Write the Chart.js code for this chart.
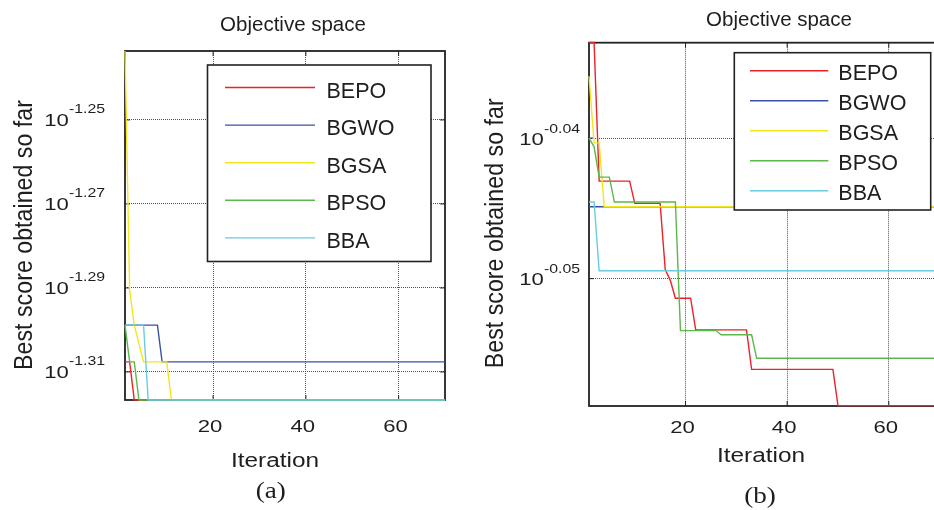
<!DOCTYPE html>
<html>
<head>
<meta charset="utf-8">
<title>Objective space</title>
<script src="https://cdn.jsdelivr.net/npm/chart.js@4.4.1/dist/chart.umd.min.js"></script>
<style>
  html, body { margin: 0; padding: 0; background: #fff; }
  body { width: 934px; height: 510px; overflow: hidden; position: relative; }
  canvas { position: absolute; top: 0; }
  #chartA { left: 0; }
  #chartB { left: 470px; }
</style>
</head>
<body>
<canvas id="chartA" width="470" height="510"></canvas>
<canvas id="chartB" width="480" height="510"></canvas>
<script>
// algorithms, in plotting order (last one ends up on top)
const names = ['BEPO', 'BGWO', 'BGSA', 'BPSO', 'BBA'];
const colors = ['#ec2227', '#3853a4', '#f4e61c', '#5cb84a', '#6bcbe0'];

// shared x axis
const xRange = [1, 70];
const xTicks = [20, 40, 60];

// (a) best score so far, only the iterations where a curve changes
const a_BEPO_x = [1, 2, 3, 70];
const a_BEPO_y = [0.04925, 0.04925, 0.04823, 0.04823];
const a_BGWO_x = [1, 8, 9, 70];
const a_BGWO_y = [0.05025, 0.05025, 0.04925, 0.04925];
const a_BGSA_x = [1, 2, 3, 4, 5, 10, 11, 70];
const a_BGSA_y = [0.0584, 0.05122, 0.05025, 0.04975, 0.04925, 0.04925, 0.04823, 0.04823];
const a_BPSO_x = [1, 2, 3, 4, 70];
const a_BPSO_y = [0.05025, 0.04925, 0.04925, 0.04823, 0.04823];
const a_BBA_x = [1, 5, 6, 70];
const a_BBA_y = [0.05025, 0.05025, 0.04823, 0.04823];
const a_yRange = [0.04823, 0.0584];
const a_yTickExp = ['-1.25', '-1.27', '-1.29', '-1.31'];

// (b)
const b_BEPO_x = [1, 2, 3, 9, 10, 15, 16, 17, 18, 21, 22, 32, 33, 49, 50, 70];
const b_BEPO_y = [0.9264, 0.9264, 0.9056, 0.9056, 0.9023, 0.9023, 0.8926, 0.8910, 0.8884, 0.8884, 0.8838, 0.8838, 0.8781, 0.8781, 0.8729, 0.8729];
const b_BGWO_x = [1, 70];
const b_BGWO_y = [0.9018, 0.9018];
const b_BGSA_x = [1, 2, 3, 4, 70];
const b_BGSA_y = [0.9213, 0.9113, 0.9113, 0.9018, 0.9018];
const b_BPSO_x = [1, 2, 3, 5, 6, 18, 19, 26, 27, 33, 34, 70];
const b_BPSO_y = [0.9120, 0.9107, 0.9062, 0.9062, 0.9025, 0.9025, 0.8837, 0.8837, 0.8831, 0.8831, 0.8797, 0.8797];
const b_BBA_x = [1, 2, 3, 70];
const b_BBA_y = [0.9025, 0.9025, 0.8924, 0.8924];
const b_yRange = [0.87285, 0.92637];
const b_yTickExp = ['-0.04', '-0.05'];

const SANS = '"Liberation Sans", Arial, Helvetica, sans-serif';
const SERIF = '"Liberation Serif", "Times New Roman", serif';

// text helper, sx stretches the glyphs horizontally (the figure is a bit wide)
function txt(ctx, s, x, y, size, sx, align, family) {
  ctx.save();
  ctx.font = size + 'px ' + (family || SANS);
  ctx.textAlign = align || 'left';
  ctx.textBaseline = 'alphabetic';
  ctx.fillStyle = '#1e1e1e';
  ctx.translate(x, y);
  ctx.scale(sx, 1);
  ctx.fillText(s, 0, 0);
  ctx.restore();
}

function makePlugin(L) {
  return {
    id: 'matlabLook',
    beforeDatasetsDraw(chart) {
      const { ctx, chartArea: a, scales } = chart;
      ctx.save();
      ctx.strokeStyle = '#222';
      ctx.lineWidth = 1;
      ctx.beginPath();
      scales.x.ticks.forEach(t => {
        const px = scales.x.getPixelForValue(t.value);
        ctx.moveTo(px, a.bottom); ctx.lineTo(px, a.bottom - 5);
        ctx.moveTo(px, a.top); ctx.lineTo(px, a.top + 5);
      });
      scales.y.ticks.forEach(t => {
        const py = scales.y.getPixelForValue(t.value);
        ctx.moveTo(a.left, py); ctx.lineTo(a.left + 5, py);
        ctx.moveTo(a.right, py); ctx.lineTo(a.right - 5, py);
      });
      ctx.stroke();
      ctx.lineWidth = 1.8;
      ctx.strokeRect(a.left, a.top, a.right - a.left, a.bottom - a.top);
      ctx.restore();
    },
    afterDatasetsDraw(chart) {
      const ctx = chart.ctx;
      const g = L.legend;
      const [x1, y1, x2, y2] = g.box;
      ctx.save();
      ctx.fillStyle = '#fff';
      ctx.fillRect(x1, y1, x2 - x1, y2 - y1);
      ctx.strokeStyle = '#222';
      ctx.lineWidth = 1.6;
      ctx.strokeRect(x1, y1, x2 - x1, y2 - y1);
      chart.data.datasets.forEach((ds, i) => {
        const y = g.rowY + i * g.rowGap;
        ctx.strokeStyle = ds.borderColor;
        ctx.lineWidth = 1.4;
        ctx.beginPath();
        ctx.moveTo(g.line[0], y); ctx.lineTo(g.line[1], y);
        ctx.stroke();
        txt(ctx, ds.label, g.textX, y + g.textDy, 21.5, 1, 'left');
      });
      ctx.restore();
    },
    afterDraw(chart) {
      const { ctx, scales } = chart;
      txt(ctx, 'Objective space', L.title.x, L.title.y, 20.5, 1, 'center');
      // x tick labels
      scales.x.ticks.forEach(t => {
        txt(ctx, String(t.value), scales.x.getPixelForValue(t.value) - 3, L.xTickY, 17, 1.3, 'center');
      });
      // y tick labels as 10^exp
      L.exps.forEach(e => {
        const py = scales.y.getPixelForValue(Math.pow(10, Number(e)));
        ctx.save();
        ctx.font = '17px ' + SANS;
        const w = ctx.measureText('10').width * 1.3;
        ctx.restore();
        txt(ctx, '10', L.yLabelX, py + L.baseDy, 17, 1.3, 'left');
        txt(ctx, e, L.yLabelX + w, py + L.supDy, 13, 1.22, 'left');
      });
      txt(ctx, 'Iteration', L.xTitle.x, L.xTitle.y, 20, 1.22, 'center');
      // rotated y title
      ctx.save();
      ctx.font = '23px ' + SANS;
      ctx.fillStyle = '#1e1e1e';
      ctx.textAlign = 'center';
      ctx.textBaseline = 'alphabetic';
      ctx.translate(L.yTitle.x, L.yTitle.y);
      ctx.rotate(-Math.PI / 2);
      ctx.scale(1.01, 1.12);
      ctx.fillText('Best score obtained so far', 0, 0);
      ctx.restore();
      txt(ctx, L.caption.text, L.caption.x, L.caption.y, 23, 1.18, 'center', SERIF);
    }
  };
}

function makeChart(id, xs, ys, yRange, exps, L) {
  const datasets = names.map((n, i) => ({
    label: n,
    data: xs[i].map((x, k) => ({ x: x, y: ys[i][k] })),
    borderColor: colors[i],
    backgroundColor: colors[i],
    borderWidth: 1.4,
    pointRadius: 0,
    tension: 0,
    fill: false,
    clip: 2,   // let the curves sitting on the bottom edge show over the frame
    order: names.length - i
  }));
  L.exps = exps;
  const gridOpts = { color: 'rgba(40,40,40,0.8)', lineWidth: 1, drawTicks: false };
  return new Chart(document.getElementById(id).getContext('2d'), {
    type: 'line',
    data: { datasets: datasets },
    options: {
      responsive: false,
      animation: false,
      events: [],
      layout: { padding: L.pad },
      scales: {
        x: {
          type: 'linear',
          bounds: 'data',
          min: xRange[0],
          max: xRange[1],
          afterBuildTicks: s => { s.ticks = xTicks.map(v => ({ value: v })); },
          ticks: { display: false },
          grid: gridOpts,
          border: { display: false, dash: [1, 1] }
        },
        y: {
          type: 'logarithmic',
          bounds: 'data',
          min: yRange[0],
          max: yRange[1],
          afterBuildTicks: s => { s.ticks = exps.map(e => ({ value: Math.pow(10, Number(e)) })); },
          ticks: { display: false },
          grid: gridOpts,
          border: { display: false, dash: [1, 1] }
        }
      },
      plugins: { legend: { display: false }, tooltip: { enabled: false }, title: { display: false } }
    },
    plugins: [makePlugin(L)]
  });
}

makeChart('chartA',
  [a_BEPO_x, a_BGWO_x, a_BGSA_x, a_BPSO_x, a_BBA_x],
  [a_BEPO_y, a_BGWO_y, a_BGSA_y, a_BPSO_y, a_BBA_y],
  a_yRange, a_yTickExp, {
    pad: { left: 125, top: 51, right: 25, bottom: 110 },
    title: { x: 293, y: 30.5 },
    legend: { box: [207.5, 65, 431, 261.5], line: [225, 315], textX: 326.5, rowY: 87.5, rowGap: 37.6, textDy: 10 },
    yLabelX: 44.3, baseDy: 6, supDy: -7.3,
    xTickY: 431.7,
    xTitle: { x: 275, y: 466.7 },
    yTitle: { x: 32.3, y: 235 },
    caption: { text: '(a)', x: 270.8, y: 497.5 }
  });

makeChart('chartB',
  [b_BEPO_x, b_BGWO_x, b_BGSA_x, b_BPSO_x, b_BBA_x],
  [b_BEPO_y, b_BGWO_y, b_BGSA_y, b_BPSO_y, b_BBA_y],
  b_yRange, b_yTickExp, {
    pad: { left: 119, top: 42.7, right: 10.4, bottom: 104 },
    title: { x: 309, y: 26 },
    legend: { box: [264.3, 52.7, 460.7, 210], line: [280, 358.3], textX: 368.3, rowY: 70.7, rowGap: 30, textDy: 9.3 },
    yLabelX: 49.3, baseDy: 6.5, supDy: -5.5,
    xTickY: 433.3,
    xTitle: { x: 291, y: 461.5 },
    yTitle: { x: 33.3, y: 233.3 },
    caption: { text: '(b)', x: 290, y: 502.5 }
  });
</script>
</body>
</html>
